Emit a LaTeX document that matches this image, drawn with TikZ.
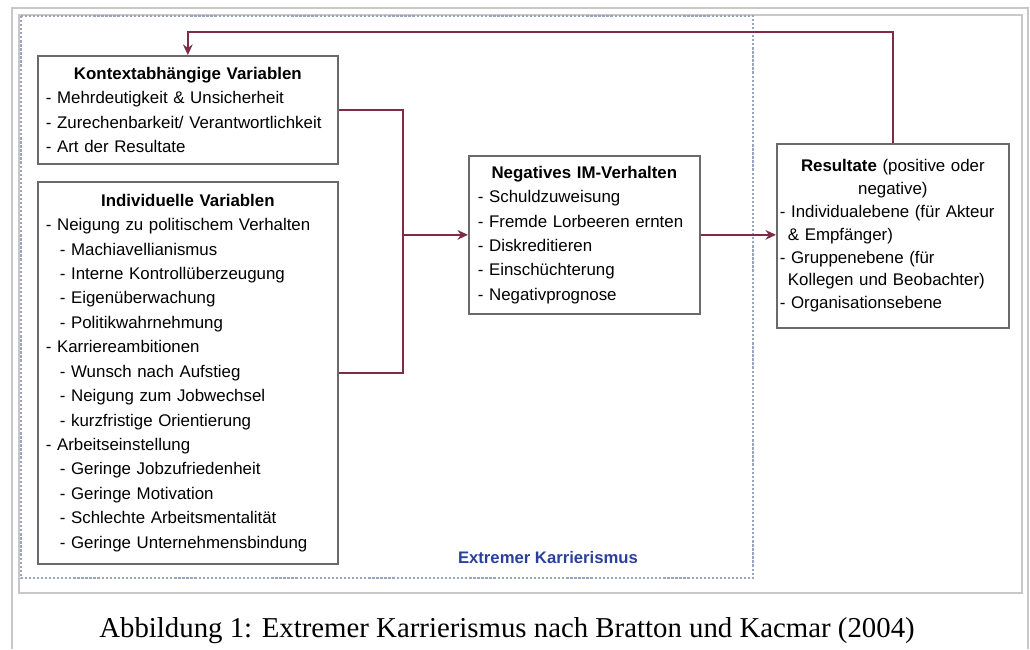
\documentclass[tikz,border=0pt]{standalone}
\usepackage{fontspec}
\setmainfont{Liberation Sans}
\newfontfamily\captionfont{Liberation Serif}
\usepackage{xcolor}
\usetikzlibrary{arrows,arrows.meta,positioning,calc}

\definecolor{pfeil}{HTML}{7D2B48}
\definecolor{rahmen}{HTML}{6A6A6A}
\definecolor{zone}{HTML}{9AA4BF}
\definecolor{blautext}{HTML}{2B3F9E}
\definecolor{bildrand}{HTML}{C8C8C8}

\begin{document}
\begin{tikzpicture}[x=0.02cm, y=-0.02cm, font=\fontsize{9.6}{13.9}\selectfont]
    \tikzstyle{varbox} = [rectangle, draw=rahmen, line width=1pt, fill=white, anchor=north west, align=left, inner xsep=0.16cm, inner ysep=0pt, text width=5.68cm]
    \tikzstyle{link} = [draw=pfeil, line width=1.4pt, >={Stealth[length=6pt,width=5.5pt]}]
    \tikzstyle{frame} = [draw=bildrand, line width=1.1pt]

    \useasboundingbox (0,0) rectangle (1030,649);

    % Rahmen
    \draw[frame] (12,649) -- (12,8) -- (1028,8) -- (1028,649);
    \draw[frame] (19,15) rectangle (1022,593);
    \draw[draw=zone, line width=1.3pt, densely dotted] (21,16) rectangle (753,578);

    % Variablen
    \node[varbox, minimum height=2.16cm] (kontext) at (37,55) {%
        \centerline{\textbf{Kontextabhängige Variablen}}
        - Mehrdeutigkeit \& Unsicherheit\\
        - Zurechenbarkeit/ Verantwortlichkeit\\
        - Art der Resultate};
    \node[varbox, minimum height=7.64cm] (indiv) at (37,181) {%
        \centerline{\textbf{Individuelle Variablen}}
        - Neigung zu politischem Verhalten\\
        \hspace*{0.28cm}- Machiavellianismus\\
        \hspace*{0.28cm}- Interne Kontrollüberzeugung\\
        \hspace*{0.28cm}- Eigenüberwachung\\
        \hspace*{0.28cm}- Politikwahrnehmung\\
        - Karriereambitionen\\
        \hspace*{0.28cm}- Wunsch nach Aufstieg\\
        \hspace*{0.28cm}- Neigung zum Jobwechsel\\
        \hspace*{0.28cm}- kurzfristige Orientierung\\
        - Arbeitseinstellung\\
        \hspace*{0.28cm}- Geringe Jobzufriedenheit\\
        \hspace*{0.28cm}- Geringe Motivation\\
        \hspace*{0.28cm}- Schlechte Arbeitsmentalität\\
        \hspace*{0.28cm}- Geringe Unternehmensbindung};

    % Verhalten
    \node[varbox, inner xsep=0.18cm, text width=4.26cm, minimum height=3.16cm] (negativ) at (468,155) {%
        \centerline{\textbf{Negatives IM-Verhalten}}
        - Schuldzuweisung\\
        - Fremde Lorbeeren ernten\\
        - Diskreditieren\\
        - Einschüchterung\\
        - Negativprognose};

    % Resultate
    \node[varbox, inner xsep=0.06cm, text width=4.52cm, minimum height=3.68cm, font=\fontsize{9.6}{13}\selectfont] (result) at (776,143) {%
        \centerline{\textbf{Resultate} (positive oder}
        \centerline{negative)}
        - Individualebene (für Akteur\\
        \hspace*{0.16cm}\& Empfänger)\\
        - Gruppenebene (für\\
        \hspace*{0.16cm}Kollegen und Beobachter)\\
        - Organisationsebene};

    \node[font=\bfseries\fontsize{9.5}{11}\selectfont, text=blautext] (zonelabel) at (548,558) {Extremer Karrierismus};

    % Verbindungen
    \coordinate[left=1.3cm of negativ.west] (bus);
    \coordinate (loop) at (540,32);
    \draw[link] (kontext.east) -| (bus);
    \draw[link] (indiv.east) -| (bus);
    \draw[link, ->] (bus) -- (negativ.west);
    \draw[link, ->] (negativ.east) -- (negativ.east -| result.west);
    \draw[link, ->] (result.north) |- (loop) -| (kontext.north);

    \node[font=\captionfont\fontsize{16.4}{19}\selectfont, anchor=base] (caption) at (507,637) {Abbildung 1: Extremer Karrierismus nach Bratton und Kacmar (2004)};
\end{tikzpicture}
\end{document}
